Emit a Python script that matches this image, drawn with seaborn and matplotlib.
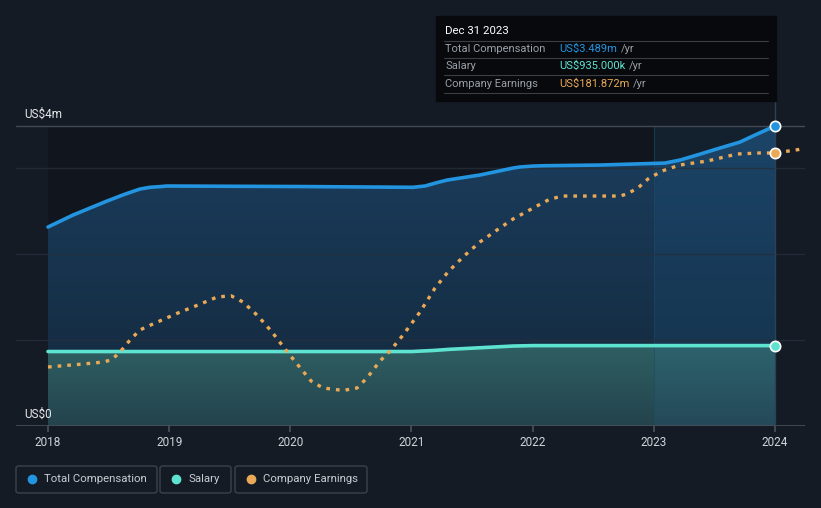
import numpy as np
import pandas as pd
import seaborn as sns
import matplotlib
matplotlib.use('Agg')
import matplotlib.pyplot as plt
from matplotlib.patches import Rectangle, FancyBboxPatch
from matplotlib.lines import Line2D
from matplotlib.colors import LinearSegmentedColormap

# data (years as decimals, values in US$ m)
comp_years = [2018.0, 2018.206, 2018.347, 2018.487, 2018.627, 2018.759, 2018.842,
              2018.924, 2018.982, 2020.08, 2021.012, 2021.111, 2021.21, 2021.293,
              2021.565, 2021.838, 2021.895, 2022.003, 2022.1, 2022.556, 2023.092,
              2023.216, 2023.356, 2023.546, 2023.711, 2023.835, 2024.0]
comp_vals = [2.314, 2.453, 2.535, 2.616, 2.692, 2.756, 2.776, 2.784, 2.791, 2.785,
             2.776, 2.791, 2.83, 2.86, 2.919, 3.0, 3.012, 3.023, 3.027, 3.035, 3.058,
             3.093, 3.151, 3.233, 3.302, 3.384, 3.489]

salary_years = [2018.0, 2021.0, 2021.177, 2021.318, 2021.565, 2021.838, 2022.003, 2024.0]
salary_vals = [0.866, 0.866, 0.878, 0.892, 0.91, 0.93, 0.935, 0.935]

earn_years = [2018.0, 2018.289, 2018.454, 2018.52, 2018.569, 2018.602, 2018.677,
              2018.759, 2018.867, 2019.073, 2019.238, 2019.395, 2019.51, 2019.609,
              2019.733, 2019.849, 2019.956, 2020.063, 2020.171, 2020.27, 2020.435,
              2020.55, 2020.633, 2020.74, 2020.823, 2020.93, 2021.07, 2021.194,
              2021.301, 2021.425, 2021.565, 2021.706, 2021.838, 2022.036, 2022.143,
              2022.25, 2022.721, 2022.778, 2022.869, 2022.952, 2023.068, 2023.216,
              2023.439, 2023.686, 2023.876, 2024.0, 2024.19, 2024.248]
earn_vals = [39.3, 41.3, 42.6, 44.0, 47.3, 50.0, 57.3, 64.0, 68.0, 75.3, 80.6, 85.9,
             86.8, 82.6, 73.3, 62.6, 51.3, 40.6, 30.0, 25.3, 23.7, 25.3, 32.0, 43.3,
             50.0, 60.6, 75.9, 91.9, 102.6, 112.6, 122.6, 130.6, 137.9, 146.6, 151.2,
             153.2, 153.2, 154.6, 158.6, 164.6, 169.9, 173.9, 176.5, 181.2, 181.9,
             181.872, 184.1, 185.2]

year_ticks = [2018, 2019, 2020, 2021, 2022, 2023, 2024]

comp_df = pd.DataFrame({'year': comp_years, 'value': comp_vals})
salary_df = pd.DataFrame({'year': salary_years, 'value': salary_vals})
earn_df = pd.DataFrame({'year': earn_years, 'value': earn_vals})

BG = '#151b25'
COMP = '#2394df'
SAL = '#5ee3d0'
EARN = '#e9a956'

sns.set_theme(style='dark')
plt.rcParams['font.family'] = ['Roboto', 'DejaVu Sans']

fig = plt.figure(figsize=(8.21, 5.08), dpi=100, facecolor=BG)
W, H = 821, 508
ax = fig.add_axes([16 / W, (H - 426) / H, (805 - 16) / W, 426 / H])
ax.set_facecolor(BG)
px_per_m = 300 / 3.489
x0, x1 = 2018 - 32 / 121.17, 2024 + 30 / 121.17
ytop = 426 / px_per_m
ax.set_xlim(x0, x1)
ax.set_ylim(0, ytop)

top_frac = 300 / 426
# darker panel over the data span
ax.axvspan(2018, 2024, ymax=top_frac, color='#11161e', lw=0, zorder=0)


def gradient_fill(xs, ys, c_top, c_bot):
    poly = ax.fill_between(xs, 0, ys, color='none', lw=0, zorder=2)
    cmap = LinearSegmentedColormap.from_list('g', [c_bot, c_top])
    grad = np.linspace(0, 1, 256).reshape(-1, 1)
    im = ax.imshow(grad, cmap=cmap, aspect='auto', origin='lower',
                   extent=[x0, x1, 0, max(ys) + 0.05], zorder=2)
    im.set_clip_path(poly.get_paths()[0], transform=ax.transData)


gradient_fill(comp_df['year'], comp_df['value'], '#1b3e5e', '#13283c')
gradient_fill(salary_df['year'], salary_df['value'], '#2f6164', '#24434d')
ax.set_xlim(x0, x1)
ax.set_ylim(0, ytop)

# lighter band for the last year
ax.axvspan(2023, 2024, ymax=top_frac, color='#2a8ad0', alpha=0.09, lw=0, zorder=3)
ax.axvline(2023, ymax=top_frac, color='#1d4a66', lw=0.8, alpha=0.6, zorder=3)

# gridlines
for v in [1, 2, 3]:
    ax.axhline(v, color='#262e3a', lw=1, alpha=0.8, zorder=3)
ax.axhline(0, color='#4a505a', lw=1.2, zorder=3)
ax.axhline(3.489, color='#434952', lw=1, zorder=3)

sns.lineplot(data=comp_df, x='year', y='value', ax=ax, color=COMP, lw=2.6, zorder=4)
sns.lineplot(data=salary_df, x='year', y='value', ax=ax, color=SAL, lw=2.6, zorder=4)

ax.axvline(2024, ymax=(426 - 101) / 426, color='#2a4257', lw=1, zorder=3)

ax.scatter([2024], [comp_vals[-1]], s=55, color=COMP, edgecolor='white', lw=1.2, zorder=6)
ax.scatter([2024], [salary_vals[-1]], s=55, color=SAL, edgecolor='white', lw=1.2, zorder=6)

# earnings on its own scale
ax2 = ax.twinx()
ax2.set_ylim(0, 426 * 181.872 / 273)
sns.lineplot(data=earn_df, x='year', y='value', ax=ax2, color=EARN, lw=2.4,
             linestyle=(0, (1.1, 1.8)), dash_capstyle='butt', zorder=5)
ax2.scatter([2024], [181.872], s=55, color=EARN, edgecolor='white', lw=1.2, zorder=6)
ax2.set_axis_off()

ax.set_xticks(year_ticks)
ax.set_xticklabels([str(y) for y in year_ticks], color='#d0d4da', fontsize=8.5)
ax.tick_params(axis='x', length=4, color='#4a505a', pad=3, bottom=True)
ax.set_yticks([])
ax.set_xlabel('')
ax.set_ylabel('')
ax.grid(False)
for s in ax.spines.values():
    s.set_visible(False)

fig.text(24 / W, 1 - 114 / H, 'US$4m', color='#e6e8eb', fontsize=8.5, va='center')
fig.text(24 / W, 1 - 414 / H, 'US$0', color='#e6e8eb', fontsize=8.5, va='center')

# tooltip
fig.patches.append(Rectangle((436 / W, 1 - 101 / H), 340 / W, 85 / H, transform=fig.transFigure,
                             color='#07090c', zorder=10))
fig.text(445 / W, 1 - 31 / H, 'Dec 31 2023', color='white', fontsize=8.2, va='center', zorder=11)
rows = [('Total Compensation', 'US$3.489m', COMP, 49),
        ('Salary', 'US$935.000k', SAL, 66),
        ('Company Earnings', 'US$181.872m', EARN, 84)]
for sep in [41, 58, 75, 93]:
    fig.add_artist(Line2D([444 / W, 768 / W], [1 - sep / H] * 2, color='#3b3f45', lw=0.8, zorder=11))
for label, val, col, y in rows:
    fig.text(445 / W, 1 - y / H, label, color='#9aa0a8', fontsize=8, va='center', zorder=11)
    t = fig.text(559 / W, 1 - y / H, val, color=col, fontsize=8, va='center', zorder=11)
    fig.canvas.draw()
    bb = t.get_window_extent()
    fig.text((bb.x1 + 4) / W, 1 - y / H, '/yr', color='#9aa0a8', fontsize=8, va='center', zorder=11)

# legend boxes
legend = [('Total Compensation', COMP, 16, 157), ('Salary', SAL, 160, 231),
          ('Company Earnings', EARN, 235, 367)]
for label, col, lx0, lx1 in legend:
    fig.patches.append(FancyBboxPatch((lx0 / W, 1 - 493 / H), (lx1 - lx0) / W, 27 / H,
                                      boxstyle='round,pad=0,rounding_size=0.004',
                                      transform=fig.transFigure, facecolor='none',
                                      edgecolor='#3c424c', lw=1))
    fig.add_artist(Line2D([(lx0 + 16) / W], [1 - 479 / H], marker='o', markersize=6,
                          color=col, lw=0))
    fig.text((lx0 + 28) / W, 1 - 479 / H, label, color='#c8ccd2', fontsize=8.2, va='center')

fig.savefig('out.png', dpi=100, facecolor=BG)
